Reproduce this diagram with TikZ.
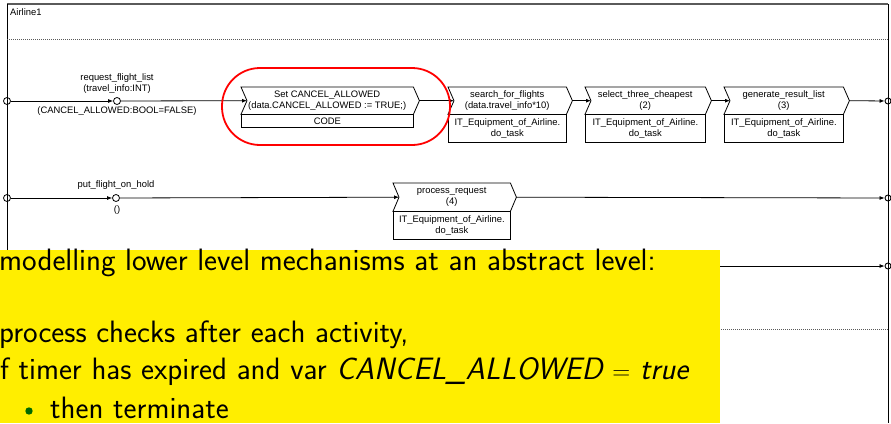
\documentclass[tikz,border=0pt]{standalone}
\usepackage{fontspec}
\setmainfont{Liberation Sans}
\usetikzlibrary{arrows.meta}
\definecolor{noteyellow}{RGB}{255,238,0}
\definecolor{bulletgreen}{RGB}{0,105,0}
\definecolor{framegray}{RGB}{90,90,90}

% chevron outline around a task node, with named in/out points
\newcommand{\drawchevron}[1]{%
  \draw[shape line] (#1.north west) -- (#1.north east) -- ([xshift=6pt]#1.east)
    -- (#1.south east) -- (#1.south west) -- ([xshift=6pt]#1.west) -- cycle;
  \coordinate (#1-in) at ([xshift=6pt]#1.west);
  \coordinate (#1-out) at ([xshift=6pt]#1.east);}

\begin{document}
\begin{tikzpicture}[x=1pt,y=-1pt,
  lbl/.style={font=\fontsize{9.4}{11}\selectfont, inner sep=0pt, align=center},
  shape line/.style={line width=0.8pt},
  flow/.style={line width=0.8pt, -{Latex[length=5pt,width=4pt]}},
  startev/.style={circle, draw, line width=0.8pt, minimum size=7pt, inner sep=0pt},
  midev/.style={circle, draw, line width=0.8pt, fill=white, minimum size=7pt, inner sep=0pt},
  endev/.style={circle, draw, line width=0.9pt, minimum size=6pt, inner sep=0pt},
  task/.style={lbl, minimum height=27pt, anchor=north west},
  resource/.style={lbl, draw, line width=0.8pt, minimum height=28pt, anchor=north west},
  notetext/.style={font=\fontsize{30.9}{36}\sffamily, inner sep=0pt, anchor=base west},
]
\useasboundingbox (0,0) rectangle (891,423);

% pool frame
\draw[framegray, line width=1.6pt] (7,4) -- (888,4);
\draw[line width=0.8pt] (7,4) -- (7,423);
\draw[line width=0.8pt] (888,4) -- (888,423);
\draw[framegray, line width=1pt, dash pattern=on 1pt off 1pt] (7,39) -- (888,39);
\draw[framegray, line width=1pt, dash pattern=on 1pt off 1pt] (7,329) -- (888,329);
\node[lbl, anchor=west] (pool) at (10,12) {Airline1};

% row 1: flight list request
\node[startev] (s1) at (7,101) {};
\node[midev] (m1) at (117,101) {};
\node[lbl] (m1top) at (117,83.5) {request\_flight\_list\\(travel\_info:INT)};
\node[lbl] (m1bot) at (117,111.5) {(CANCEL\_ALLOWED:BOOL=FALSE)};

\node[task, minimum width=172pt] (a1) at (241,87) {Set CANCEL\_ALLOWED\\(data.CANCEL\_ALLOWED := TRUE;)};
\node[resource, minimum width=172pt, minimum height=13pt] (r1) at (a1.south west) {CODE};
\drawchevron{a1}

\node[task, minimum width=118pt] (a2) at (448,87) {search\_for\_flights\\(data.travel\_info*10)};
\node[resource, minimum width=118pt] (r2) at (a2.south west) {IT\_Equipment\_of\_Airline.\\do\_task};
\drawchevron{a2}

\node[task, minimum width=120pt] (a3) at (585,87) {select\_three\_cheapest\\(2)};
\node[resource, minimum width=120pt] (r3) at (a3.south west) {IT\_Equipment\_of\_Airline.\\do\_task};
\drawchevron{a3}

\node[task, minimum width=119pt] (a4) at (724,87) {generate\_result\_list\\(3)};
\node[resource, minimum width=119pt] (r4) at (a4.south west) {IT\_Equipment\_of\_Airline.\\do\_task};
\drawchevron{a4}

\node[endev] (t1) at (888,101) {};

\draw[flow] (s1) -- (m1);
\draw[flow] (m1) -- (a1-in);
\draw[flow] (a1-out) -- (a2-in);
\draw[flow] (a2-out) -- (a3-in);
\draw[flow] (a3-out) -- (a4-in);
\draw[flow] (a4-out) -- (t1);

% highlight around the code task
\node[draw=red, line width=1.8pt, rounded corners=38pt, minimum width=228pt,
      minimum height=77pt, inner sep=0pt] (hl) at (336,106.5) {};

% row 2: hold request
\node[startev] (s2) at (7,198) {};
\node[midev] (m2) at (116,198) {};
\node[lbl] (m2top) at (116,185.5) {put\_flight\_on\_hold};
\node[lbl] (m2bot) at (117,210) {()};

\node[task, minimum width=117pt, minimum height=28pt] (a5) at (393,183) {process\_request\\(4)};
\node[resource, minimum width=117pt] (r5) at (a5.south west) {IT\_Equipment\_of\_Airline.\\do\_task};
\drawchevron{a5}

\node[endev] (t2) at (888,198) {};
\draw[flow] (s2) -- (m2);
\draw[flow] (m2) -- (a5-in);
\draw[flow] (a5-out) -- (t2);

% row 3
\node[startev] (s3) at (7,266) {};
\node[endev] (t3) at (888,266) {};
\draw[flow] (s3) -- (t3);

% note overlay
\node[fill=noteyellow, minimum width=720pt, minimum height=173pt, inner sep=0pt,
      anchor=north west] (note) at (0,250) {};
\node[notetext] (n1) at (-1,270) {modelling lower level mechanisms at an abstract level:};
\node[notetext] (n2) at (-1,342) {process checks after each activity,};
\node[notetext] (n3) at (-7,379) {if timer has expired and var {\slshape CANCEL\_ALLOWED} $=$ {\slshape true}};
\fill[bulletgreen] (29,411) circle (3.7pt);
\node[notetext] (n4) at (50,418.5) {then terminate};
\end{tikzpicture}
\end{document}
